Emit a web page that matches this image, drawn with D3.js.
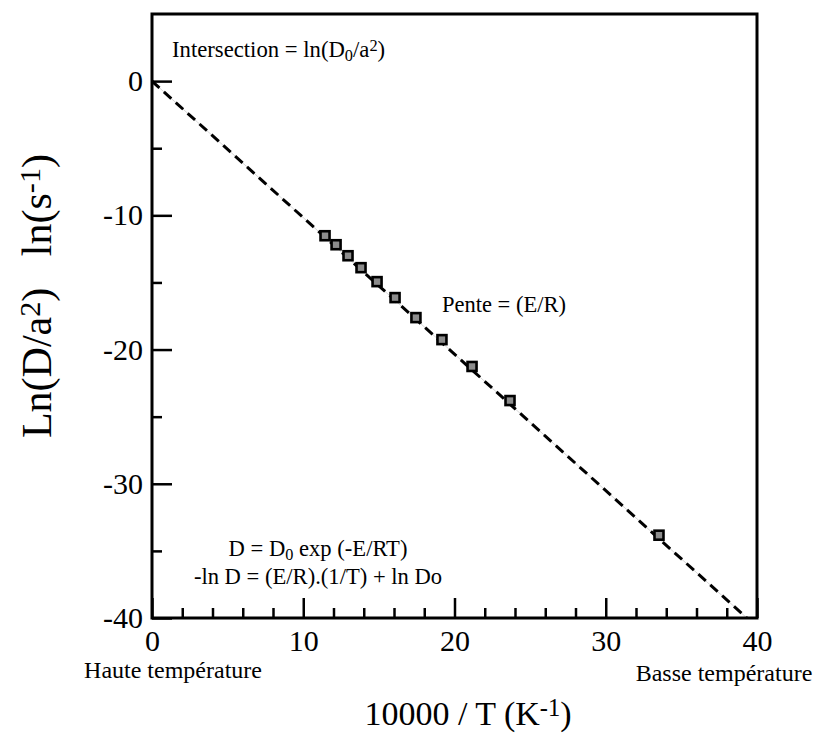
<!DOCTYPE html>
<html>
<head>
<meta charset="utf-8">
<script src="https://cdn.jsdelivr.net/npm/d3@7"></script>
<style>
  html, body { margin: 0; padding: 0; background: #fff; }
  svg { display: block; }
  text { font-family: "Liberation Serif", "Times New Roman", serif; fill: #000; }
</style>
</head>
<body>
<svg id="chart" width="813" height="733"></svg>
<script>
// Measured diffusion points: x = 10000/T (K^-1), y = ln(D/a^2) (ln s^-1)
const invT = [11.44, 12.17, 12.96, 13.82, 14.88, 16.07, 17.45, 19.17, 21.16, 23.67, 33.52];
const lnD  = [-11.52, -12.19, -13.01, -13.90, -14.94, -16.13, -17.62, -19.26, -21.26, -23.80, -33.83];

// Arrhenius fit: ln(D/a^2) = intercept + slope * (10000/T)
const fitIntercept = 0;
const fitSlope = -1.017;

const xDomain = [0, 40];
const yDomain = [-40, 5];
const xMajorTicks = [0, 10, 20, 30, 40];
const xMinorTicks = [2, 4, 6, 8, 12, 14, 16, 18, 22, 24, 26, 28, 32, 34, 36, 38];
const yMajorTicks = [0, -10, -20, -30, -40];
const yMinorTicks = [-5, -15, -25, -35];

const serif = '"Liberation Serif", "Times New Roman", serif';
const svg = d3.select("#chart");
const plot = { left: 152, right: 757, top: 14, bottom: 618 };

const x = d3.scaleLinear().domain(xDomain).range([plot.left, plot.right]);
const y = d3.scaleLinear().domain(yDomain).range([plot.bottom, plot.top]);

svg.append("defs").append("clipPath").attr("id", "plot-clip")
  .append("rect")
  .attr("x", plot.left).attr("y", plot.top)
  .attr("width", plot.right - plot.left).attr("height", plot.bottom - plot.top);

// Inward ticks: long majors, short minors; plain hyphen for negatives
const tickLabelSize = 30;
const fmt = d => String(d);
function styleAxis(g) {
  g.attr("font-family", serif).attr("font-size", tickLabelSize);
  g.select(".domain").remove();
  g.selectAll("line").attr("stroke", "#000").attr("stroke-width", 2.5);
  g.selectAll("text").attr("fill", "#000").style("font-family", serif);
}
function xAxis(values, len, withLabels) {
  const ax = d3.axisBottom(x).tickValues(values).tickSizeInner(-len).tickSizeOuter(0)
    .tickPadding(12).tickFormat(withLabels ? fmt : () => "");
  svg.append("g").attr("transform", `translate(0,${plot.bottom})`).call(ax).call(styleAxis);
}
function yAxis(values, len, withLabels) {
  const ax = d3.axisLeft(y).tickValues(values).tickSizeInner(-len).tickSizeOuter(0)
    .tickPadding(9).tickFormat(withLabels ? fmt : () => "");
  svg.append("g").attr("transform", `translate(${plot.left},0)`).call(ax).call(styleAxis);
}
xAxis(xMinorTicks, 10, false);
xAxis(xMajorTicks, 20, true);
yAxis(yMinorTicks, 10, false);
yAxis(yMajorTicks, 20, true);

// Fitted line, dashed, clipped to the frame
const xEnd = (yDomain[0] - fitIntercept) / fitSlope;
const fitPts = [xDomain[0], Math.min(xEnd, xDomain[1])].map(v => [v, fitIntercept + fitSlope * v]);
const lineGen = d3.line().x(d => x(d[0])).y(d => y(d[1]));
const lineG = svg.append("g").attr("clip-path", "url(#plot-clip)");
lineG.append("path").datum(fitPts).attr("d", lineGen)
  .attr("fill", "none").attr("stroke", "#d8d8d8").attr("stroke-width", 1);
lineG.append("path").datum(fitPts).attr("d", lineGen)
  .attr("fill", "none").attr("stroke", "#000").attr("stroke-width", 3)
  .attr("stroke-dasharray", "10,6");

// Data points as grey squares
const pts = invT.map((v, i) => ({ x: v, y: lnD[i] }));
const sq = 9;
svg.append("g").selectAll("rect").data(pts).join("rect")
  .attr("x", d => x(d.x) - sq / 2).attr("y", d => y(d.y) - sq / 2)
  .attr("width", sq).attr("height", sq)
  .attr("fill", "#8c8c8c").attr("stroke", "#000").attr("stroke-width", 2.6);

// Frame
svg.append("rect")
  .attr("x", plot.left).attr("y", plot.top)
  .attr("width", plot.right - plot.left).attr("height", plot.bottom - plot.top)
  .attr("fill", "none").attr("stroke", "#000").attr("stroke-width", 3);

// Rich text helper: segments [text, "sub"|"sup"|undefined]
function rich(parent, segs, attrs) {
  const t = parent.append("text");
  Object.entries(attrs).forEach(([k, v]) => t.attr(k, v));
  segs.forEach(([s, kind]) => {
    const ts = t.append("tspan").text(s);
    if (kind === "sub") ts.attr("baseline-shift", "-22%").attr("font-size", "72%");
    if (kind === "sup") ts.attr("baseline-shift", "38%").attr("font-size", "72%");
  });
  return t;
}

// Axis titles
rich(svg, [["10000 / T (K"], ["-1", "sup"], [")"]],
  { x: 468, y: 725, "text-anchor": "middle", "font-size": 34 });
rich(svg, [["Ln(D/a"], ["2", "sup"], [")\u00a0\u00a0\u00a0ln(s"], ["-1", "sup"], [")"]],
  { transform: "translate(51,296) rotate(-90)", "text-anchor": "middle", "font-size": 42 });

// End labels of the temperature axis
svg.append("text").attr("x", 173).attr("y", 678).attr("text-anchor", "middle")
  .attr("font-size", 24).text("Haute température");
svg.append("text").attr("x", 724).attr("y", 681).attr("text-anchor", "middle")
  .attr("font-size", 24).text("Basse température");

// Annotations
rich(svg, [["Intersection = ln(D"], ["0", "sub"], ["/a"], ["2", "sup"], [")"]],
  { x: 172, y: 57, "font-size": 22.7 });
svg.append("text").attr("x", 442).attr("y", 312).attr("font-size", 22.5).text("Pente = (E/R)");
rich(svg, [["D = D"], ["0", "sub"], [" exp (-E/RT)"]],
  { x: 318, y: 556, "text-anchor": "middle", "font-size": 22.6 });
svg.append("text").attr("x", 318).attr("y", 584).attr("text-anchor", "middle")
  .attr("font-size", 22.6).text("-ln D = (E/R).(1/T) + ln Do");
</script>
</body>
</html>
